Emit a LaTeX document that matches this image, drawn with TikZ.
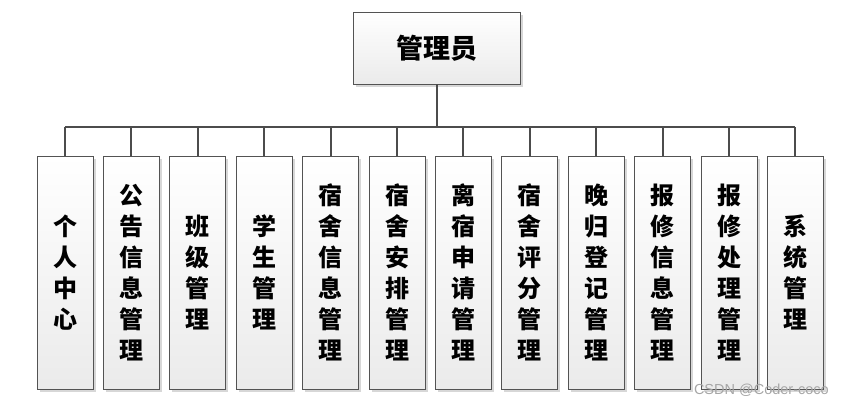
\documentclass[tikz,border=0pt]{standalone}
\usepackage{fontspec}
\newfontfamily\cjk{Noto Sans CJK SC}
\newfontfamily\wmfont{Liberation Sans}
\usetikzlibrary{shadows}
\tikzset{
  box/.style={draw=gray!65!black, line width=0.8pt, top color=white, bottom color=gray!16,
    drop shadow={shadow xshift=2.5pt, shadow yshift=-2.5pt, fill=gray!45, opacity=0.7},
    inner sep=0pt, align=center},
  rootbox/.style={box, minimum width=167pt, minimum height=72pt, font=\cjk\bfseries\fontsize{27}{31}\selectfont},
  childbox/.style={box, minimum width=56pt, minimum height=233pt, font=\cjk\bfseries\fontsize{24}{31}\selectfont},
  link/.style={draw=black!70, line width=2pt},
  wm/.style={text=gray!70, font=\wmfont\fontsize{14.5}{15}\selectfont, anchor=base east, inner sep=0pt}
}
\begin{document}
\begin{tikzpicture}[x=1pt,y=-1pt]
\useasboundingbox (0,0) rectangle (844,405);
\node[rootbox] (root) at (436.5,48) {管理员};
\coordinate (bus) at (436.5,127);
\node[childbox] (c1)  at ({65+66.4*0},272.5)  {个\\人\\中\\心};
\node[childbox] (c2)  at ({65+66.4*1},272.5)  {公\\告\\信\\息\\管\\理};
\node[childbox] (c3)  at ({65+66.4*2},272.5)  {班\\级\\管\\理};
\node[childbox] (c4)  at ({65+66.4*3},272.5)  {学\\生\\管\\理};
\node[childbox] (c5)  at ({65+66.4*4},272.5)  {宿\\舍\\信\\息\\管\\理};
\node[childbox] (c6)  at ({65+66.4*5},272.5)  {宿\\舍\\安\\排\\管\\理};
\node[childbox] (c7)  at ({65+66.4*6},272.5)  {离\\宿\\申\\请\\管\\理};
\node[childbox] (c8)  at ({65+66.4*7},272.5)  {宿\\舍\\评\\分\\管\\理};
\node[childbox] (c9)  at ({65+66.4*8},272.5)  {晚\\归\\登\\记\\管\\理};
\node[childbox] (c10) at ({65+66.4*9},272.5)  {报\\修\\信\\息\\管\\理};
\node[childbox] (c11) at ({65+66.4*10},272.5) {报\\修\\处\\理\\管\\理};
\node[childbox] (c12) at ({65+66.4*11},272.5) {系\\统\\管\\理};
\draw[link] (root.south) -- (bus);
\draw[link] (bus -| c1.north) -- (bus -| c12.north);
\foreach \i in {1,...,12} {
  \draw[link] (bus -| c\i.north) -- (c\i.north);
}
\node[wm] (mark) at (829,394) {CSDN @Coder-coco};
\end{tikzpicture}
\end{document}
